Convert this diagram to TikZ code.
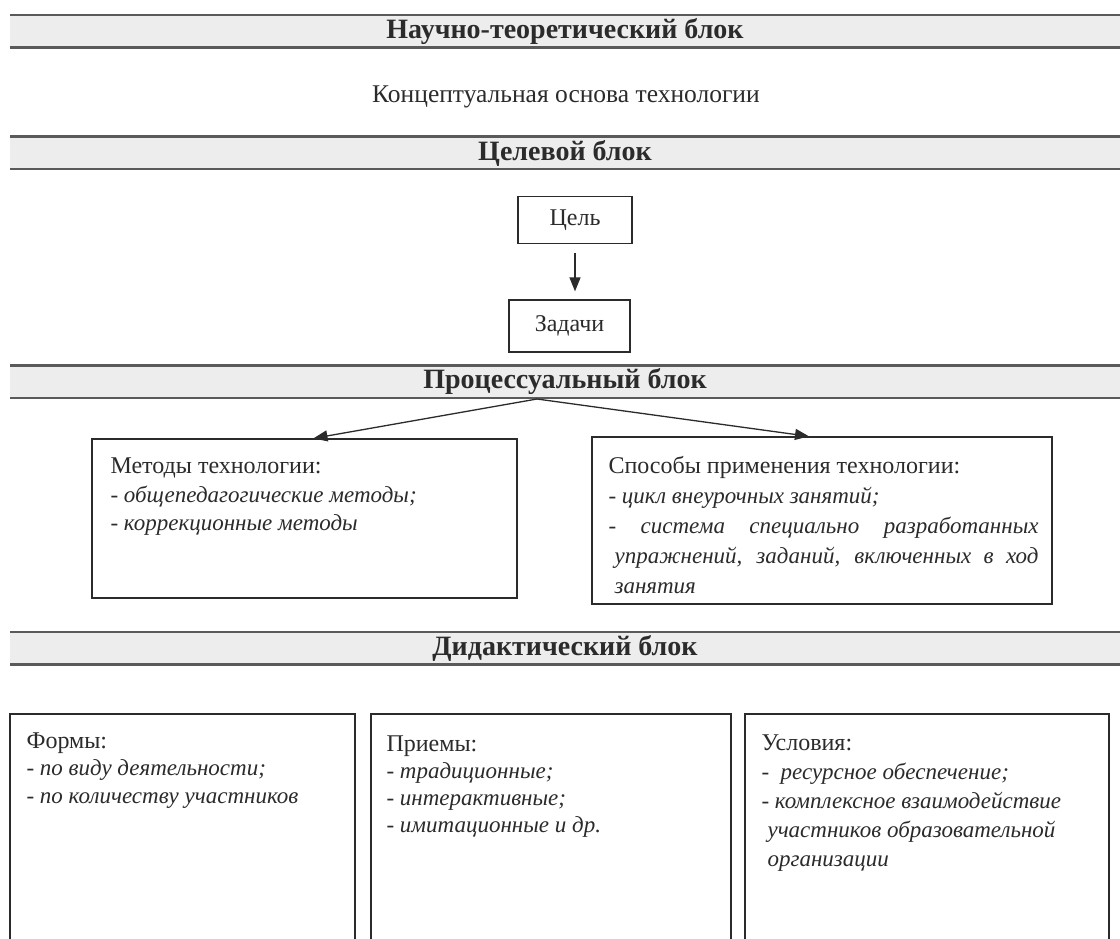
\documentclass[tikz,border=0pt]{standalone}
\usepackage{fontspec}
\setmainfont{Liberation Serif}
\usetikzlibrary{arrows.meta,positioning}
\definecolor{barfill}{HTML}{EDEDED}
\definecolor{barline}{HTML}{5A5A5A}
\definecolor{inkgray}{HTML}{2B2B2B}
\newcommand{\itline}[1]{{\fontsize{23}{29}\selectfont\itshape #1}}

\begin{document}
\begin{tikzpicture}[x=1pt,y=-1pt,bar/.style={rectangle, fill=barfill, minimum width=1110pt, minimum height=34pt, inner sep=0pt, text=inkgray, font=\fontsize{28}{30}\selectfont\bfseries, path picture={\draw[barline, line width=4pt] (path picture bounding box.north west) -- (path picture bounding box.north east) (path picture bounding box.south west) -- (path picture bounding box.south east);}},goal/.style={rectangle, draw=inkgray, line width=1.3pt, inner sep=0pt, text=inkgray, font=\fontsize{24}{28}\selectfont},frame/.style={rectangle, draw=inkgray, line width=1.3pt, inner sep=0pt},boxtext/.style={anchor=base west, inner sep=0pt, align=left, text=inkgray, font=\fontsize{24}{29}\selectfont},arr/.style={-{Triangle[length=14pt,width=11pt]}, line width=1.3pt, draw=inkgray}]
            \useasboundingbox[fill=white] (0,0) rectangle (1120,939);
            \node[bar] (nauchbar) at (565,31.5) {Научно-теоретический блок};
            \node[text=inkgray, font=\fontsize{25.5}{30}\selectfont] (osnova) at (566,97) {Концептуальная основа технологии};
            \node[bar] (celbar) at (565,153) {Целевой блок};
            \node[goal, minimum width=114pt, minimum height=47pt] (cel) at (575,220) {Цель};
            \node[goal, minimum width=121pt, minimum height=52pt] (zadachi) at (569.5,326) {Задачи};
            \node[bar] (procbar) at (565,381.5) {Процессуальный блок};
            \node[frame, minimum width=425pt, minimum height=159pt] (metody) at (304.5,518.5) {};
            \node[frame, minimum width=460pt, minimum height=167pt] (sposoby) at (822,520.5) {};
            \node[bar] (didbar) at (565,648) {Дидактический блок};
            \node[frame, minimum width=345pt, minimum height=240pt] (formy) at (182.5,834) {};
            \node[frame, minimum width=360pt, minimum height=240pt] (priemy) at (551,834) {};
            \node[frame, minimum width=364pt, minimum height=240pt] (usloviya) at (927,834) {};
            % texts of the boxes (base = last line)
            \node[boxtext, font=\fontsize{24}{28.5}\selectfont] (metodytxt) at ([shift={(19,92.5)}]metody.north west) {Методы технологии:\\ \itline{- общепедагогические методы;}\\ \itline{- коррекционные методы}};
            \node[boxtext, font=\fontsize{24}{30}\selectfont] (sposobytxt) at ([shift={(17,157)}]sposoby.north west) {Способы применения технологии:\\ \itline{- цикл внеурочных занятий;}\\ \itline{\makebox[430pt][s]{- система специально разработанных}}\\ \itline{\hspace*{6pt}\makebox[424pt][s]{упражнений, заданий, включенных в ход}}\\ \itline{\hspace*{6pt}занятия}};
            \node[boxtext, font=\fontsize{24}{27.5}\selectfont] (formytxt) at ([shift={(17,90)}]formy.north west) {Формы:\\ \itline{- по виду деятельности;}\\ \itline{- по количеству участников}};
            \node[boxtext, font=\fontsize{24}{27}\selectfont] (priemytxt) at ([shift={(16,119)}]priemy.north west) {Приемы:\\ \itline{- традиционные;}\\ \itline{- интерактивные;}\\ \itline{- имитационные и др.}};
            \node[boxtext] (usloviyatxt) at ([shift={(17,153)}]usloviya.north west) {Условия:\\ \itline{- \ ресурсное обеспечение;}\\ \itline{- комплексное взаимодействие}\\ \itline{\hspace*{6pt}участников образовательной}\\ \itline{\hspace*{6pt}организации}};
            \coordinate (fork) at (537,399);
            \draw[arr, shorten <=9pt, shorten >=8pt] (cel.south) -- (cel.south |- zadachi.north);
            \draw[arr] (fork) -- ([xshift=9pt]metody.north);
            \draw[arr] (fork) -- ([xshift=-13pt]sposoby.north);
        \end{tikzpicture}
\end{document}
